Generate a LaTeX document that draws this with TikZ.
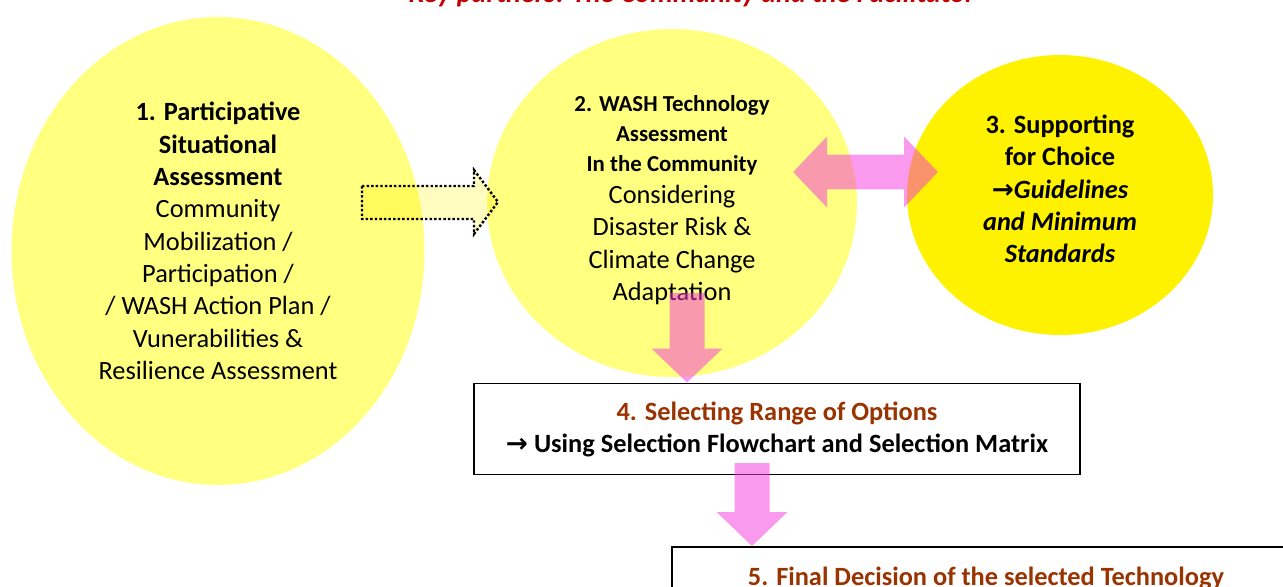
\documentclass[tikz,border=0pt]{standalone}
\usepackage{fontspec}
\setmainfont{Carlito}
\newfontfamily\symbfont{DejaVu Sans}
\usetikzlibrary{arrows.meta,shapes.geometric,positioning}
\definecolor{paleyellow}{HTML}{FFFF80}
\definecolor{stepbrown}{HTML}{993300}
\definecolor{keyred}{HTML}{C00000}
\definecolor{arrowpink}{HTML}{F335DD}
\newcommand{\toarrow}{{\symbfont\bfseries →}}

\begin{document}
\begin{tikzpicture}[
    x=0.02cm, y=-0.02cm,
    bubble/.style={ellipse, inner sep=0},
    bubbletext/.style={align=center, inner sep=0, font=\fontsize{15}{18.4}\selectfont},
    stepbox/.style={draw, fill=white, line width=1.1pt, inner xsep=0, inner ysep=0.36cm, align=center,
        font=\fontsize{15}{18.2}\selectfont\bfseries},
    pinkarrow/.style={line width=0.7cm, draw=arrowpink,
        -{Triangle[length=0.68cm, width=1.38cm]}},
    pinkdouble/.style={line width=0.7cm, draw=arrowpink,
        {Triangle[length=0.68cm, width=1.38cm]}-{Triangle[length=0.68cm, width=1.38cm]}}]
\clip (0,0) rectangle (1283,587);

% the three bubbles
\node[bubble, fill=paleyellow, minimum width=8.26cm, minimum height=9.36cm] (sit) at (218,251) {};
\node[bubble, fill=paleyellow, minimum width=7.4cm, minimum height=6.96cm] (tech) at (672,203) {};
\node[bubble, fill=yellow, minimum width=6.12cm, minimum height=5.6cm] (supp) at (1060,195) {};

\node[keyred, anchor=base, font=\fontsize{16}{19}\selectfont\bfseries\itshape] (title) at (692,2.5)
    {Key partners: The Community and the Facilitator};

\node[bubbletext] (sittext) at (218,241)
    {\textbf{1. Participative}\\ \textbf{Situational}\\ \textbf{Assessment}\\ Community\\ Mobilization /\\
     Participation /\\ / WASH Action Plan /\\ Vunerabilities \&\\ Resilience Assessment};
\node[bubbletext, font=\fontsize{13}{17}\selectfont\bfseries] (techtitle) at (672,135)
    {2. WASH Technology\\ Assessment\\ In the Community};
\node[bubbletext] (techtext) at (672,245)
    {Considering\\ Disaster Risk \&\\ Climate Change\\ Adaptation};
\node[bubbletext, font=\fontsize{15}{18.4}\selectfont\bfseries] (supptext) at (1060,189)
    {3. Supporting\\ for Choice\\ \itshape\toarrow Guidelines\\ \itshape and Minimum\\ \itshape Standards};

% boxes
\node[stepbox, minimum width=12.12cm, minimum height=1.72cm] (opt) at (777,429)
    {\textcolor{stepbrown}{4. Selecting Range of Options}\\ \toarrow\ Using Selection Flowchart and Selection Matrix};
\node[stepbox, anchor=north west, minimum width=12.56cm, inner ysep=0.4cm] (final) at (671,546)
    {\textcolor{stepbrown}{5. Final Decision of the selected Technology}};

% dotted arrow 1 -> 2
\path[draw, fill=yellow, fill opacity=0.25, line width=1.4pt, dash pattern=on 1.4pt off 1.2pt]
    (362,186) -- (474,186) -- (474,170) -- (498,202) -- (474,234) -- (474,219) -- (362,219) -- cycle;

% pink arrows
\coordinate (a1) at (687,293);
\coordinate (a2) at (752,463);
\begin{scope}[transparency group, opacity=0.5]
\draw[pinkdouble] (793,172) -- (938,172);
\draw[pinkarrow] (a1) -- (a1 |- opt.north);
\draw[pinkarrow] (a2) -- (a2 |- final.north);
\end{scope}

\end{tikzpicture}
\end{document}
